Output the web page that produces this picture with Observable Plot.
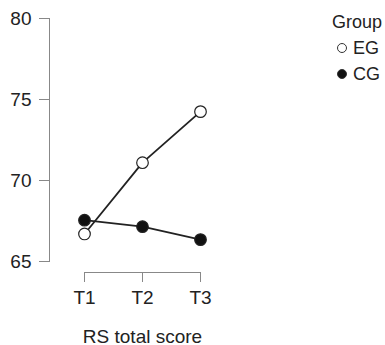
<!DOCTYPE html>
<html><head><meta charset="utf-8">
<script src="https://cdn.jsdelivr.net/npm/d3@7"></script>
<script src="https://cdn.jsdelivr.net/npm/@observablehq/plot@0.6"></script>
<style>
body{margin:0;background:#fff;}
#wrap{position:relative;width:385px;height:345px;font-family:"Liberation Sans",Arial,Helvetica,sans-serif;}
#legend{position:absolute;left:332px;top:9px;font-size:18px;color:#222;}
.row{height:26px;display:flex;align-items:center;white-space:nowrap;}
.row svg{margin-left:4px;margin-right:5px;}
</style></head><body><div id="wrap"><div id="chart"></div><div id="legend"></div></div>
<script>
const times = ["T1", "T2", "T3"];
const groups = ["EG", "CG"];
const egValues = [66.7, 71.1, 74.25];
const cgValues = [67.55, 67.15, 66.35];
const yTicks = [65, 70, 75, 80];
const xLabel = "RS total score";
const legendTitle = "Group";
const groupFill = {EG: "white", CG: "#111"};

const data = [
  ...times.map((t, i) => ({time: t, group: "EG", value: egValues[i]})),
  ...times.map((t, i) => ({time: t, group: "CG", value: cgValues[i]}))
];

const font = '"Liberation Sans", Arial, Helvetica, sans-serif';
const plot = Plot.plot({
  width: 385, height: 345,
  marginLeft: 49, marginTop: 18, marginBottom: 73, marginRight: 20,
  style: {fontFamily: font, fontSize: "19px", color: "#222", background: "white"},
  x: {type: "point", domain: times, range: [83, 200], padding: 0, label: null},
  y: {domain: [65, 80], range: [261, 18], label: null},
  marks: [
    Plot.frame({anchor: "left", insetBottom: 11, stroke: "#888"}),
    Plot.ruleY([65], {x1: () => "T1", x2: () => "T3", dy: 11, stroke: "#888"}),
    Plot.axisY({ticks: yTicks, tickSize: 10, tickPadding: 8, stroke: "#888", label: null}),
    Plot.axisX({tickSize: 10, tickPadding: 8, stroke: "#888", label: null}),
    Plot.text([xLabel], {x: () => "T2", frameAnchor: "bottom", lineAnchor: "bottom", dy: 70, fontSize: 19, text: d => d}),
    Plot.line(data, {x: "time", y: "value", z: "group", stroke: "#222", strokeWidth: 1.8}),
    Plot.dot(data, {x: "time", y: "value", r: 5.8, stroke: "#222", strokeWidth: 1.2, fill: d => groupFill[d.group]})
  ]
});
document.getElementById("chart").appendChild(plot);

const legend = document.getElementById("legend");
const title = document.createElement("div");
title.className = "row";
title.textContent = legendTitle;
legend.appendChild(title);
for (const g of groups) {
  const row = document.createElement("div");
  row.className = "row";
  row.innerHTML = `<svg width="12" height="12"><circle cx="6" cy="6" r="4.5" fill="${groupFill[g]}" stroke="#333" stroke-width="1"/></svg><span>${g}</span>`;
  legend.appendChild(row);
}
</script></body></html>
